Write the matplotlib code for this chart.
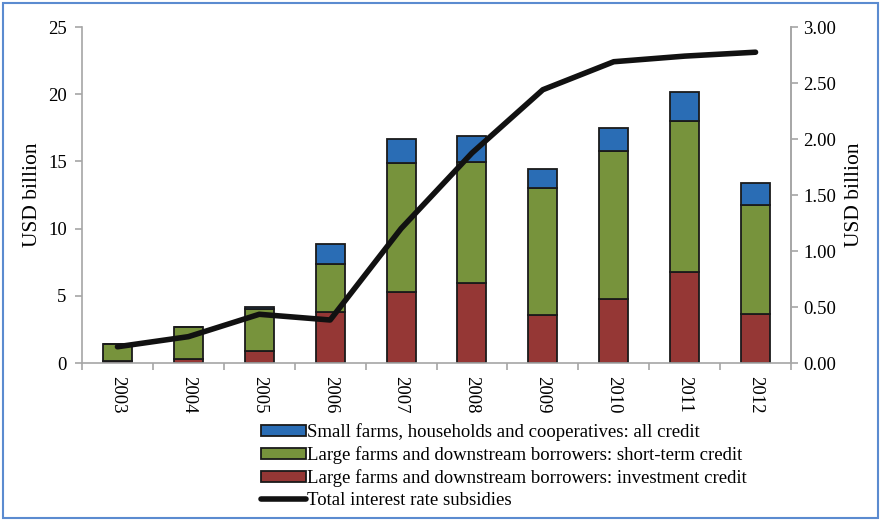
import numpy as np
import matplotlib.pyplot as plt
from matplotlib.patches import Rectangle
from matplotlib.lines import Line2D

plt.rcParams['font.family'] = ['Liberation Serif', 'DejaVu Serif']

years = ['2003', '2004', '2005', '2006', '2007', '2008', '2009', '2010', '2011', '2012']
# stacked bars (USD billion, left axis)
investment = [0.12, 0.33, 0.9, 3.8, 5.3, 5.97, 3.59, 4.78, 6.79, 3.67]
short_term_top = [1.45, 2.7, 4.0, 7.34, 14.85, 14.95, 13.05, 15.75, 18.0, 11.76]
total_top = [1.45, 2.7, 4.2, 8.87, 16.67, 16.9, 14.42, 17.46, 20.15, 13.39]
# total interest rate subsidies (USD billion, right axis)
subsidies = [0.145, 0.235, 0.435, 0.384, 1.20, 1.875, 2.44, 2.69, 2.74, 2.775]

short_term = np.array(short_term_top) - np.array(investment)
small = np.array(total_top) - np.array(short_term_top)

c_red = '#953735'
c_green = '#77933C'
c_blue = '#2A6DB5'
grey = '#A6A6A6'

fig = plt.figure(figsize=(8.81, 5.21), dpi=100)
ax = fig.add_axes([82 / 881, 1 - 363 / 521, 709 / 881, 336 / 521])
x = np.arange(len(years))
w = 0.41
ax.bar(x, investment, w, color=c_red, edgecolor='#1a1a1a', linewidth=1.3, zorder=2)
ax.bar(x, short_term, w, bottom=investment, color=c_green, edgecolor='#1a1a1a', linewidth=1.3, zorder=2)
ax.bar(x, small, w, bottom=short_term_top, color=c_blue, edgecolor='#1a1a1a', linewidth=1.3, zorder=2)

ax.set_xlim(-0.5, len(years) - 0.5)
ax.set_ylim(0, 25)
ax.set_yticks([0, 5, 10, 15, 20, 25])
ax.set_xticks(x)
ax.set_xticklabels(years, rotation=270, fontsize=13.5)
ax.set_xticks(np.arange(-0.5, len(years)), minor=True)
ax.tick_params(axis='x', which='major', length=0, pad=9)
ax.tick_params(axis='x', which='minor', length=5, color=grey, width=1.2)
ax.tick_params(axis='y', length=5, color=grey, width=1.2, labelsize=13.5, pad=6)
ax.set_ylabel('USD billion', fontsize=15.5, labelpad=4)
ax.spines['top'].set_visible(False)
for s in ['left', 'bottom', 'right']:
    ax.spines[s].set_color(grey)
    ax.spines[s].set_linewidth(1.2)

ax2 = ax.twinx()
ax2.plot(x, subsidies, color='#111111', linewidth=4, solid_capstyle='round', zorder=3)
ax2.set_ylim(0, 3)
ax2.set_yticks(np.arange(0, 3.01, 0.5))
ax2.set_yticklabels([f'{v:.2f}' for v in np.arange(0, 3.01, 0.5)])
ax2.tick_params(axis='y', length=5, color=grey, width=1.2, labelsize=13.5, pad=4)
ax2.set_ylabel('USD billion', fontsize=15.5, labelpad=6)
ax2.spines['top'].set_visible(False)
ax2.spines['right'].set_color(grey)
ax2.spines['right'].set_linewidth(1.2)
ax2.spines['left'].set_visible(False)
ax2.spines['bottom'].set_visible(False)

handles = [
    Rectangle((0, 0), 1, 1, facecolor=c_blue, edgecolor='#1a1a1a', linewidth=1.3),
    Rectangle((0, 0), 1, 1, facecolor=c_green, edgecolor='#1a1a1a', linewidth=1.3),
    Rectangle((0, 0), 1, 1, facecolor=c_red, edgecolor='#1a1a1a', linewidth=1.3),
    Line2D([0], [0], color='#111111', linewidth=4, solid_capstyle='round'),
]
labels = [
    'Small farms, households and cooperatives: all credit',
    'Large farms and downstream borrowers: short-term credit',
    'Large farms and downstream borrowers: investment credit',
    'Total interest rate subsidies',
]
fig.legend(handles, labels, loc='upper left', bbox_to_anchor=(253 / 881, 1 - 416 / 521),
           frameon=False, fontsize=13.5, handlelength=2.4, handleheight=0.5,
           handletextpad=0.1, labelspacing=0.26, borderaxespad=0)

fig.add_artist(Rectangle((3 / 881, 3 / 521), 875 / 881, 515 / 521, transform=fig.transFigure,
                         fill=False, edgecolor='#5B8BD0', linewidth=1.5))

fig.savefig('out.png', dpi=100)
